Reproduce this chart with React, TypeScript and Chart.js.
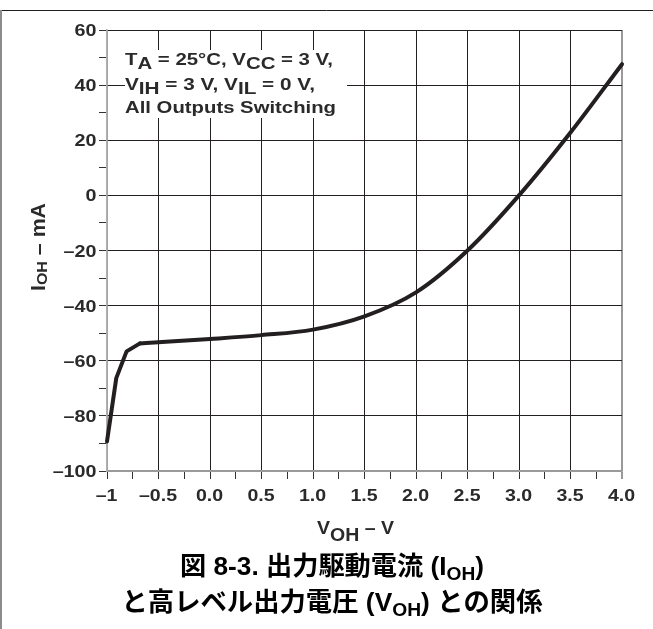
import { useEffect, useRef } from 'react';
import { Chart, registerables } from 'chart.js';

Chart.register(...registerables);

// ---- data ----
const V_OH = [-1.0, -0.91, -0.81, -0.68, -0.5, 0.0, 0.5, 1.0, 1.5, 2.0, 2.5, 3.0, 3.5, 4.0];
const I_OH = [-89.3, -66.3, -56.6, -53.7, -53.3, -52.1, -50.7, -48.7, -43.9, -35.2, -20.0, 0.0, 22.8, 47.6];
const KNEE_END = 3; // straight segments up to this index, smooth curve after

const X_TICK_VALUES = [-1, -0.5, 0, 0.5, 1, 1.5, 2, 2.5, 3, 3.5, 4];
const X_TICK_LABELS = ['–1', '–0.5', '0.0', '0.5', '1.0', '1.5', '2.0', '2.5', '3.0', '3.5', '4.0'];
const Y_TICK_VALUES = [60, 40, 20, 0, -20, -40, -60, -80, -100];
const Y_TICK_LABELS = ['60', '40', '20', '0', '–20', '–40', '–60', '–80', '–100'];

const FAMILY = '"Liberation Sans", "Noto Sans CJK JP", Arial, sans-serif';
const DARK = '#231f20';
const GRAY = '#9a9a9a';
const TEXT = '#2a2a2a';

type Seg = { t: string; size: number; dy?: number };

function drawRich(
  ctx: CanvasRenderingContext2D,
  segs: Seg[],
  x: number,
  y: number,
  align: 'left' | 'center' | 'right',
  k: number,
  fit: number | null,
  color: string
) {
  ctx.save();
  ctx.fillStyle = color;
  ctx.textBaseline = 'alphabetic';
  ctx.textAlign = 'left';
  const ws: number[] = [];
  let total = 0;
  for (const s of segs) {
    ctx.font = `bold ${s.size}px ${FAMILY}`;
    const w = ctx.measureText(s.t).width;
    ws.push(w);
    total += w;
  }
  const sx = fit ? fit / total : k;
  const W = total * sx;
  const x0 = align === 'left' ? x : align === 'center' ? x - W / 2 : x - W;
  ctx.translate(x0, y);
  ctx.scale(sx, 1);
  let cx = 0;
  segs.forEach((s, i) => {
    ctx.font = `bold ${s.size}px ${FAMILY}`;
    ctx.fillText(s.t, cx, s.dy || 0);
    cx += ws[i];
  });
  ctx.restore();
}

const near = (a: number, b: number) => Math.abs(a - b) < 1e-9;

const decor = {
  id: 'decor',
  beforeDraw(chart: any) {
    const ctx = chart.ctx as CanvasRenderingContext2D;
    ctx.save();
    ctx.fillStyle = '#fff';
    ctx.fillRect(0, 0, chart.width, chart.height);
    ctx.strokeStyle = DARK;
    ctx.lineWidth = 1;
    ctx.beginPath();
    ctx.moveTo(0, 10.5);
    ctx.lineTo(chart.width, 10.5);
    ctx.stroke();
    ctx.strokeStyle = '#8c8c8c';
    ctx.lineWidth = 2;
    ctx.beginPath();
    ctx.moveTo(1, 10);
    ctx.lineTo(1, chart.height);
    ctx.stroke();
    ctx.restore();
  },
  beforeDatasetsDraw(chart: any) {
    const ctx = chart.ctx as CanvasRenderingContext2D;
    ctx.save();
    ctx.fillStyle = '#fff';
    ctx.fillRect(125, 50, 222, 68);
    ctx.restore();
    drawRich(ctx, [
      { t: 'T', size: 17 }, { t: 'A', size: 17, dy: 4 },
      { t: ' = 25°C, V', size: 17 }, { t: 'CC', size: 17, dy: 4 },
      { t: ' = 3 V,', size: 17 },
    ], 125, 65, 'left', 1.19, 208, TEXT);
    drawRich(ctx, [
      { t: 'V', size: 17 }, { t: 'IH', size: 17, dy: 4 },
      { t: ' = 3 V, V', size: 17 }, { t: 'IL', size: 17, dy: 4 },
      { t: ' = 0 V,', size: 17 },
    ], 125, 89.7, 'left', 1.19, 190, TEXT);
    drawRich(ctx, [{ t: 'All Outputs Switching', size: 17 }], 125, 112.7, 'left', 1.19, 211, TEXT);
  },
  afterDraw(chart: any) {
    const ctx = chart.ctx as CanvasRenderingContext2D;
    const xs = chart.scales.x;
    const ys = chart.scales.y;
    Y_TICK_VALUES.forEach((v, i) => {
      const py = ys.getPixelForValue(v);
      drawRich(ctx, [{ t: Y_TICK_LABELS[i], size: 17 }], 96.5, py + 6.1, 'right', 1.16, null, TEXT);
    });
    X_TICK_VALUES.forEach((v, i) => {
      const px = xs.getPixelForValue(v);
      drawRich(ctx, [{ t: X_TICK_LABELS[i], size: 17 }], px - 0.5, 500.5, 'center', 1.15, null, TEXT);
    });
    ctx.save();
    ctx.translate(45, 247);
    ctx.rotate(-Math.PI / 2);
    drawRich(ctx, [
      { t: 'I', size: 20 }, { t: 'OH', size: 15, dy: 1.5 }, { t: ' – mA', size: 20 },
    ], 0, 0, 'center', 1, 88, TEXT);
    ctx.restore();
    drawRich(ctx, [
      { t: 'V', size: 17.5 }, { t: 'OH', size: 17.5, dy: 6.7 }, { t: ' – V', size: 17.5 },
    ], 317, 534.3, 'left', 1.12, 77, TEXT);
    drawRich(ctx, [
      { t: '図 8-3. 出力駆動電流 (I', size: 26 }, { t: 'OH', size: 19, dy: 5 }, { t: ')', size: 26 },
    ], 332, 575, 'center', 1, 304, '#000');
    drawRich(ctx, [
      { t: 'と高レベル出力電圧 (V', size: 26 }, { t: 'OH', size: 19, dy: 5 }, { t: ') との関係', size: 26 },
    ], 332, 611, 'center', 1, 421, '#000');
  },
};

export default function App() {
  const ref = useRef<HTMLCanvasElement | null>(null);
  useEffect(() => {
    if (!ref.current) return;
    const pts = V_OH.map((x, i) => ({ x, y: I_OH[i] }));
    const common = {
      showLine: true,
      borderColor: DARK,
      borderWidth: 4,
      pointRadius: 0,
      borderCapStyle: 'round',
      borderJoinStyle: 'round',
      clip: false,
    };
    const chart = new Chart(ref.current, {
      type: 'scatter',
      data: {
        datasets: [
          { ...common, data: pts.slice(0, KNEE_END + 1), tension: 0 } as any,
          { ...common, data: pts.slice(KNEE_END), cubicInterpolationMode: 'monotone' } as any,
        ],
      },
      options: {
        responsive: false,
        maintainAspectRatio: false,
        devicePixelRatio: 1,
        animation: false,
        events: [],
        layout: { padding: { left: 0, top: 30, right: 31, bottom: 0 } },
        plugins: { legend: { display: false }, tooltip: { enabled: false } },
        scales: {
          x: {
            type: 'linear',
            min: -1,
            max: 4,
            afterFit: (s: any) => { s.height = 158; },
            ticks: { display: false, stepSize: 0.25, autoSkip: false },
            grid: {
              color: (c: any) => {
                const v = c.tick ? c.tick.value : NaN;
                if (near(v, -1) || near(v, 4)) return GRAY;
                return near(v * 2, Math.round(v * 2)) ? DARK : 'rgba(0,0,0,0)';
              },
              lineWidth: (c: any) => {
                const v = c.tick ? c.tick.value : NaN;
                return near(v, 4) ? 2 : 1;
              },
              tickColor: '#333',
              tickWidth: 1,
              tickLength: 8,
              drawTicks: true,
            },
            border: { display: true, color: GRAY, width: 1.5 },
          },
          y: {
            type: 'linear',
            min: -100,
            max: 60,
            afterFit: (s: any) => { s.width = 107; },
            ticks: { display: false, stepSize: 10, autoSkip: false },
            grid: {
              color: (c: any) => {
                const v = c.tick ? c.tick.value : NaN;
                if (near(v, -100)) return GRAY;
                return near(v / 20, Math.round(v / 20)) ? DARK : 'rgba(0,0,0,0)';
              },
              tickColor: '#333',
              tickWidth: 1,
              tickLength: 8,
              drawTicks: true,
            },
            border: { display: true, color: '#b0b0b0', width: 1.5 },
          },
        },
      },
      plugins: [decor],
    });
    return () => chart.destroy();
  }, []);
  return (
    <div style={{ position: 'fixed', left: 0, top: 0, width: 653, height: 629, background: '#fff' }}>
      <canvas ref={ref} width={653} height={629} style={{ display: 'block', width: 653, height: 629 }} />
    </div>
  );
}
